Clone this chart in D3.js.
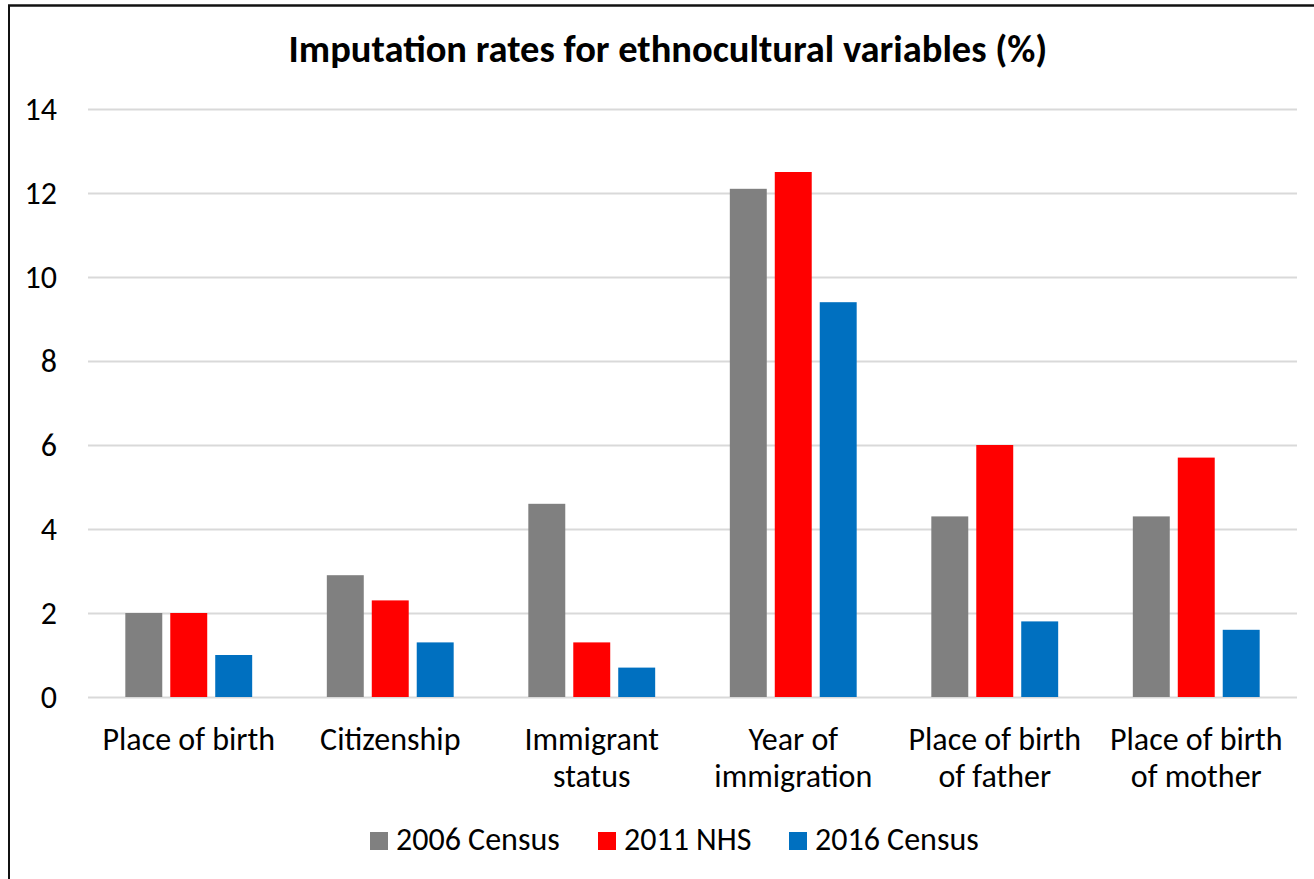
<!DOCTYPE html>
<html>
<head>
<meta charset="utf-8">
<script src="https://cdn.jsdelivr.net/npm/d3@7"></script>
<style>
  html, body { margin: 0; padding: 0; background: #fff; }
  svg { display: block; }
  text { font-family: Carlito, Calibri, "Open Sans", sans-serif; fill: #000; }
</style>
</head>
<body>
<svg id="chart" width="1314" height="879"></svg>
<script>
// Imputation rates (%) by ethnocultural variable
const categories = [
  ["Place of birth"],
  ["Citizenship"],
  ["Immigrant", "status"],
  ["Year of", "immigration"],
  ["Place of birth", "of father"],
  ["Place of birth", "of mother"]
];
const seriesNames = ["2006 Census", "2011 NHS", "2016 Census"];
const census2006 = [2.0, 2.9, 4.6, 12.1, 4.3, 4.3];
const nhs2011    = [2.0, 2.3, 1.3, 12.5, 6.0, 5.7];
const census2016 = [1.0, 1.3, 0.7, 9.4, 1.8, 1.6];
const yTicks = [0, 2, 4, 6, 8, 10, 12, 14];
const colors = ["#808080", "#ff0000", "#0070c0"];

const series = [census2006, nhs2011, census2016];
const svg = d3.select("#chart");

// Frame lines
svg.append("line").attr("x1", 9).attr("x2", 9).attr("y1", 5).attr("y2", 879)
  .attr("stroke", "#111").attr("stroke-width", 2);
svg.append("line").attr("x1", 8).attr("x2", 1314).attr("y1", 5.5).attr("y2", 5.5)
  .attr("stroke", "#111").attr("stroke-width", 2.5);

const plot = { left: 88, right: 1297, top: 109, bottom: 697 };

const x0 = d3.scaleBand()
  .domain(d3.range(categories.length))
  .range([plot.left, plot.right]);
const x1 = d3.scaleBand()
  .domain(d3.range(series.length))
  .range([0, x0.bandwidth()])
  .paddingInner(0.178)
  .paddingOuter(0.83);
const y = d3.scaleLinear().domain([0, 14]).range([plot.bottom, plot.top]);

// Title
svg.append("text")
  .attr("x", 668).attr("y", 62)
  .attr("text-anchor", "middle")
  .attr("font-size", 38.5).attr("font-weight", "bold")
  .text("Imputation rates for ethnocultural variables (%)");

// Gridlines and y tick labels
const yAxis = d3.axisLeft(y).tickValues(yTicks)
  .tickSize(-(plot.right - plot.left)).tickPadding(31).tickFormat(d3.format("d"));
const gy = svg.append("g").attr("transform", `translate(${plot.left},0)`).call(yAxis);
gy.select(".domain").remove();
gy.selectAll(".tick line").attr("stroke", "#d9d9d9").attr("stroke-width", 2);
gy.selectAll(".tick text").attr("font-size", 32).attr("fill", "#000")
  .attr("font-family", "Carlito, Calibri, 'Open Sans', sans-serif");

// Bars
const groups = svg.append("g").selectAll("g")
  .data(categories)
  .join("g")
  .attr("transform", (d, i) => `translate(${x0(i)},0)`);
groups.selectAll("rect")
  .data((d, i) => series.map((s, k) => ({ k, v: s[i] })))
  .join("rect")
  .attr("x", d => x1(d.k))
  .attr("width", x1.bandwidth())
  .attr("y", d => y(d.v))
  .attr("height", d => y(0) - y(d.v))
  .attr("fill", d => colors[d.k]);

// Category labels
const xl = svg.append("g").selectAll("text")
  .data(categories)
  .join("text")
  .attr("x", (d, i) => x0(i) + x0.bandwidth() / 2)
  .attr("y", 750)
  .attr("text-anchor", "middle")
  .attr("font-size", 32);
xl.selectAll("tspan")
  .data(d => d)
  .join("tspan")
  .attr("x", function() { return this.parentNode.getAttribute("x"); })
  .attr("dy", (d, i) => i === 0 ? 0 : 37)
  .text(d => d);

// Legend
const legendX = [370, 598, 789];
const legend = svg.append("g").selectAll("g")
  .data(seriesNames)
  .join("g")
  .attr("transform", (d, i) => `translate(${legendX[i]},832)`);
legend.append("rect").attr("width", 18).attr("height", 18).attr("fill", (d, i) => colors[i]);
legend.append("text").attr("x", 26).attr("y", 18).attr("font-size", 32).text(d => d);
</script>
</body>
</html>
